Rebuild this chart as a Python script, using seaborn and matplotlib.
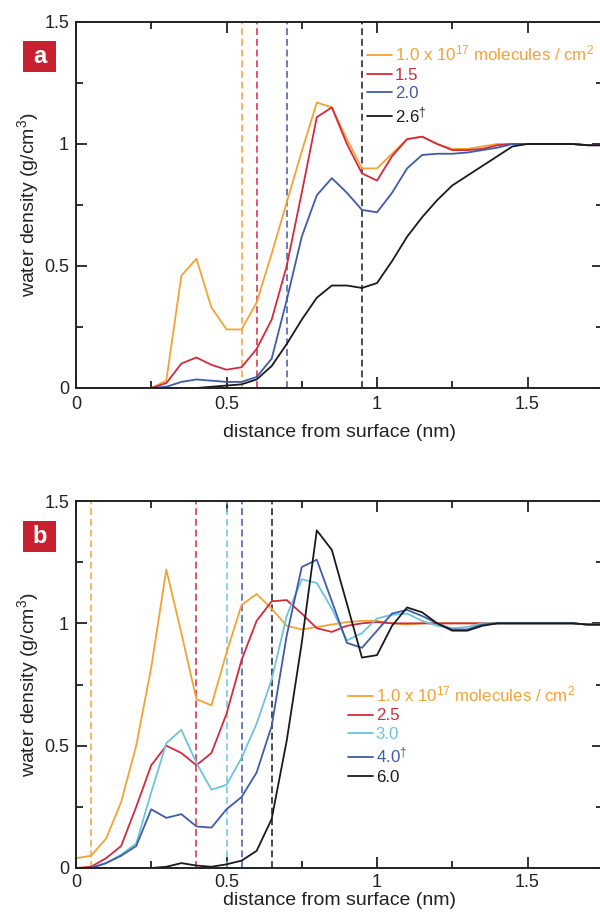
import numpy as np
import pandas as pd
import matplotlib
matplotlib.use("Agg")
import matplotlib.pyplot as plt
from matplotlib.patches import Rectangle
import seaborn as sns

# ---------------- data ----------------
distance = [0.00, 0.05, 0.10, 0.15, 0.20, 0.25, 0.30, 0.35, 0.40, 0.45,
            0.50, 0.55, 0.60, 0.65, 0.70, 0.75, 0.80, 0.85, 0.90, 0.95,
            1.00, 1.05, 1.10, 1.15, 1.20, 1.25, 1.30, 1.35, 1.40, 1.45,
            1.50, 1.55, 1.60, 1.65, 1.70, 1.75]

# panel a
a_labels = ["1.0 x 10$^{17}$ molecules / cm$^2$", "1.5", "2.0", "2.6$^{\u2020}$"]
a_10 = [0, 0, 0, 0, 0, 0, 0.03, 0.46, 0.53, 0.33, 0.24, 0.24, 0.35, 0.55, 0.76, 0.97,
        1.17, 1.15, 1.02, 0.90, 0.90, 0.96, 1.02, 1.03, 1.0, 0.98, 0.98, 0.99, 1.0, 1.0,
        1.0, 1.0, 1.0, 1.0, 0.995, 0.995]
a_15 = [0, 0, 0, 0, 0, 0, 0.02, 0.10, 0.125, 0.095, 0.075, 0.085, 0.16, 0.28, 0.50, 0.80,
        1.11, 1.15, 1.0, 0.88, 0.85, 0.95, 1.02, 1.03, 1.0, 0.975, 0.975, 0.98, 0.995, 1.0,
        1.0, 1.0, 1.0, 1.0, 0.995, 0.995]
a_20 = [0, 0, 0, 0, 0, 0, 0.005, 0.025, 0.035, 0.03, 0.025, 0.025, 0.045, 0.12, 0.36, 0.62,
        0.79, 0.86, 0.80, 0.73, 0.72, 0.80, 0.90, 0.955, 0.96, 0.96, 0.965, 0.975, 0.985, 1.0,
        1.0, 1.0, 1.0, 1.0, 0.995, 0.995]
a_26 = [0, 0, 0, 0, 0, 0, 0, 0, 0, 0.005, 0.01, 0.015, 0.035, 0.09, 0.18, 0.28,
        0.37, 0.42, 0.42, 0.41, 0.43, 0.52, 0.62, 0.70, 0.77, 0.83, 0.87, 0.91, 0.95, 0.99,
        1.0, 1.0, 1.0, 1.0, 0.995, 0.995]
a_cutoffs = [0.55, 0.60, 0.70, 0.95]

# panel b
b_labels = ["1.0 x 10$^{17}$ molecules / cm$^2$", "2.5", "3.0", "4.0$^{\u2020}$", "6.0"]
b_10 = [0.04, 0.05, 0.12, 0.27, 0.50, 0.82, 1.22, 0.96, 0.69, 0.665, 0.88, 1.075, 1.12, 1.06,
        0.99, 0.975, 0.985, 0.995, 1.005, 1.01, 1.01, 1.0, 0.995, 1.0, 1.0, 1.0, 1.0, 1.0,
        1.0, 1.0, 1.0, 1.0, 1.0, 1.0, 0.995, 0.995]
b_25 = [0, 0.005, 0.04, 0.09, 0.25, 0.42, 0.50, 0.47, 0.42, 0.47, 0.63, 0.85, 1.01, 1.09,
        1.095, 1.04, 0.98, 0.965, 0.99, 1.0, 1.005, 1.0, 1.0, 1.0, 1.0, 1.0, 1.0, 1.0,
        1.0, 1.0, 1.0, 1.0, 1.0, 1.0, 0.995, 0.995]
b_30 = [0, 0, 0.02, 0.055, 0.10, 0.31, 0.51, 0.565, 0.43, 0.32, 0.34, 0.45, 0.59, 0.77,
        1.03, 1.18, 1.165, 1.06, 0.93, 0.96, 1.02, 1.035, 1.04, 1.01, 0.99, 0.98, 0.985, 1.0,
        1.0, 1.0, 1.0, 1.0, 1.0, 1.0, 0.995, 0.995]
b_40 = [0, 0, 0.02, 0.05, 0.09, 0.24, 0.205, 0.22, 0.17, 0.165, 0.24, 0.29, 0.39, 0.58,
        0.95, 1.23, 1.26, 1.09, 0.92, 0.90, 0.97, 1.04, 1.055, 1.03, 1.0, 0.975, 0.975, 0.995,
        1.0, 1.0, 1.0, 1.0, 1.0, 1.0, 0.995, 0.995]
b_60 = [0, 0, 0, 0, 0, 0, 0.005, 0.02, 0.01, 0.005, 0.015, 0.03, 0.07, 0.20,
        0.52, 0.92, 1.38, 1.30, 1.08, 0.86, 0.87, 0.99, 1.065, 1.045, 1.0, 0.97, 0.97, 0.99,
        1.0, 1.0, 1.0, 1.0, 1.0, 1.0, 0.995, 0.995]
b_cutoffs = [0.05, 0.40, 0.50, 0.55, 0.65]

# ---------------- style ----------------
sns.set_theme(style="ticks")
plt.rcParams["font.family"] = ["Liberation Sans", "DejaVu Sans"]
plt.rcParams["mathtext.fontset"] = "custom"
plt.rcParams["mathtext.rm"] = "Liberation Sans"
plt.rcParams["mathtext.it"] = "Liberation Sans:italic"

ORANGE = "#F4A235"
RED = "#D42A3C"
BLUE = "#3F5BAA"
CYAN = "#6CC4DC"
BLACK = "#1A1A1A"

fig = plt.figure(figsize=(6.0, 9.16), dpi=100)
W = 1.75 * 301 / 600
ax_a = fig.add_axes([76 / 600, 1 - 388 / 916, W, 366 / 916])
ax_b = fig.add_axes([76 / 600, 1 - 868 / 916, W, 367 / 916])


def draw(ax, series, labels, colors, cutoffs, legend_anchor, tag, tag_top, xpad, xlpad):
    for vals, lab, col in zip(series, labels, colors):
        sns.lineplot(x=distance, y=vals, ax=ax, color=col, lw=1.3, label=lab)
    for xc, col in zip(cutoffs, colors):
        ax.axvline(xc, color=col, lw=1.1, ls=(0, (4.5, 2.5)), zorder=1)
    ax.set_xlim(0, 1.75)
    ax.set_ylim(0, 1.5)
    ax.set_xticks([0, 0.5, 1, 1.5])
    ax.set_xticklabels(["0", "0.5", "1", "1.5"])
    ax.set_yticks([0, 0.5, 1, 1.5])
    ax.set_yticklabels(["0", "0.5", "1", "1.5"])
    ax.set_xticks([0.25, 0.75, 1.25, 1.75], minor=True)
    ax.set_yticks([0.25, 0.75, 1.25], minor=True)
    ax.tick_params(which="both", direction="in", top=True, right=True,
                   width=1.3, colors="#222222", labelsize=13, pad=5)
    ax.tick_params(axis="x", which="major", pad=xpad)
    ax.tick_params(which="major", length=8)
    ax.tick_params(which="minor", length=5)
    for sp in ax.spines.values():
        sp.set_linewidth(1.4)
        sp.set_color("#222222")
    ax.set_xlabel("distance from surface (nm)", fontsize=14, color="#222222", labelpad=xlpad)
    ax.set_ylabel("water density (g/cm$^3$)", fontsize=14, color="#222222", labelpad=2)
    ax.legend(loc="upper left", bbox_to_anchor=legend_anchor, frameon=False,
              handlelength=1.5, handletextpad=0.15, labelspacing=0.22,
              borderpad=0, borderaxespad=0, fontsize=12.2, labelcolor="linecolor")
    # panel tag: red square with white letter
    x0, x1 = 23 / 600, 56 / 600
    y1 = 1 - tag_top / 916
    y0 = 1 - (tag_top + 31) / 916
    fig.patches.append(Rectangle((x0, y0), x1 - x0, y1 - y0, transform=fig.transFigure,
                                 fc="#C8202E", ec="none"))
    fig.text((x0 + x1) / 2, (y0 + y1) / 2, tag, ha="center", va="center", color="white",
             fontsize=17, fontweight="bold")


draw(ax_a, [a_10, a_15, a_20, a_26], a_labels, [ORANGE, RED, BLUE, BLACK],
     a_cutoffs, (0.552, 0.94), "a", 41, 6, 8)
draw(ax_b, [b_10, b_25, b_30, b_40, b_60], b_labels, [ORANGE, RED, CYAN, BLUE, BLACK],
     b_cutoffs, (0.516, 0.499), "b", 521, 4, 1)

fig.savefig("out.png", dpi=100)
